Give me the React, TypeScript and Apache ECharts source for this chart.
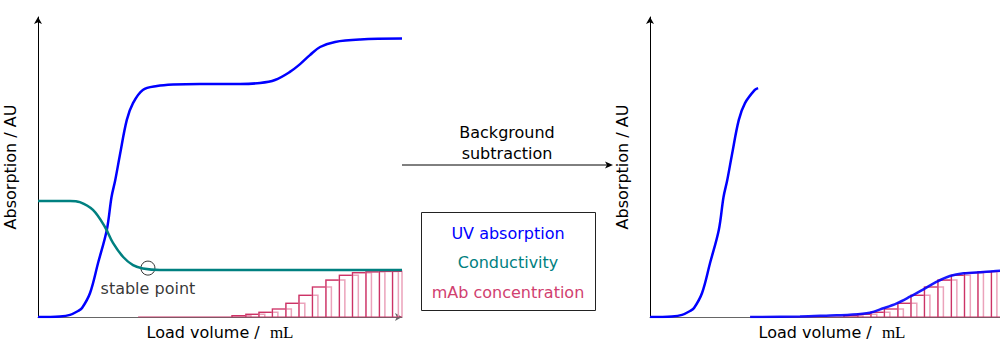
import React, { useEffect, useRef } from "react";
import * as echarts from "echarts";

const FONT = "DejaVu Sans";
const BLUE = "#0000ff";
const TEAL = "#008080";
const PINK_DARK = "#cc3366";
const PINK_LIGHT = "#eba3bb";
const PINK_TEXT = "#d1406f";

// Left plot: raw UV absorption (x: load volume 0..100, y: 0..100)
const uvRawX = [0, 6, 8.8, 11, 12.1, 14.3, 16.5, 18.9, 20.2, 21.2, 22.5, 24.4, 26.1, 28.8, 32.7, 37.1, 44.5, 55.5, 61, 65.1, 69.2, 72, 74.7, 77.5, 81.6, 88.5, 100];
const uvRawY = [0, 0.2, 0.7, 2, 3, 8, 18, 29, 40, 45.5, 54, 65.7, 71.3, 75.7, 77, 77.5, 77.7, 77.7, 78, 79, 81.7, 84.3, 87.3, 90, 91.7, 92.5, 92.8];

// Conductivity
const condX = [0, 8.8, 11.5, 15.1, 18.4, 20.6, 23.4, 26.1, 28.8, 33.5, 100];
const condY = [38.7, 38.7, 38.3, 35.7, 30, 24.7, 20, 17.3, 16.2, 15.7, 15.7];

// Stable point
const stablePoint = [30.2, 16.3];

// mAb fractions: start volume and concentration
const fractionStart = [53.3, 57.1, 60.7, 64.4, 68.1, 71.7, 75.4, 79.1, 82.8, 86.4, 90.1, 93.8, 97.4];
const fractionConc = [0.43, 0.9, 1.57, 2.67, 4.57, 7.23, 10, 12.3, 13.9, 14.77, 15.07, 15.17, 15.23];
const FRACTION_STEP = 3.68;
const FRACTION_WIDTH = 5.2;
const mAbBaselineStart = 27.5;

// Right plot: first UV rise (truncated) and subtracted UV
const uvCutX = [0, 6, 8.8, 11, 12.1, 14.3, 16.5, 18.9, 20.2, 21.2, 22.5, 24.4, 26.1, 28.8, 29.7];
const uvCutY = [0, 0.2, 0.7, 2, 3, 8, 18, 29, 40, 45.5, 54, 65.7, 71.3, 75.7, 76.3];
const uvSubX = [27.5, 41.2, 49.5, 54.9, 60.4, 64.1, 67.8, 71.4, 75.1, 78.8, 82.4, 86.1, 91.6, 96.2, 100];
const uvSubY = [0, 0.17, 0.5, 0.73, 1.43, 2.9, 4.57, 6.77, 9.23, 11.77, 13.67, 14.57, 15, 15.43, 15.57];

const zip = (xs: number[], ys: number[]) => xs.map((x, i) => [x, ys[i]]);

function renderFraction(params: any, api: any) {
  const x0 = api.value(0);
  const h = api.value(1);
  const base = api.coord([x0, 0]);
  const top = api.coord([x0, h]);
  const step = api.coord([Math.min(x0 + FRACTION_STEP, 100), h]);
  const light = api.coord([Math.min(x0 + FRACTION_WIDTH, 100), h]);
  return {
    type: "group",
    children: [
      { type: "polyline", shape: { points: [[base[0], base[1]], [top[0], top[1]], [light[0], light[1]], [light[0], base[1]]] }, style: { stroke: PINK_LIGHT, lineWidth: 1.5, fill: null } },
      { type: "polyline", shape: { points: [[base[0], base[1]], [top[0], top[1]], [step[0], step[1]]] }, style: { stroke: PINK_DARK, lineWidth: 1.2, fill: null } },
    ],
  };
}

function axisPair(idx: number) {
  return {
    x: {
      type: "value", gridIndex: idx, min: 0, max: 100,
      axisLine: { show: true, lineStyle: { color: "#666", width: 1 }, symbol: ["none", "arrow"], symbolSize: [6, 7] },
      axisTick: { show: false }, axisLabel: { show: false }, splitLine: { show: false },
      name: "Load volume /  {m|mL}", nameLocation: "middle", nameGap: 7,
      nameTextStyle: { fontFamily: FONT, fontSize: 16, color: "#000", rich: { m: { fontFamily: "Liberation Serif", fontSize: 17, color: "#000" } } },
    },
    y: {
      type: "value", gridIndex: idx, min: 0, max: 100,
      axisLine: { show: true, lineStyle: { color: "#000", width: 1 }, symbol: ["none", "arrow"], symbolSize: [6, 7] },
      axisTick: { show: false }, axisLabel: { show: false }, splitLine: { show: false },
      name: "Absorption / AU", nameLocation: "middle", nameGap: 20,
      nameTextStyle: { fontFamily: FONT, fontSize: 16, color: "#000" },
    },
  };
}

export default function App() {
  const ref = useRef<HTMLDivElement>(null);
  useEffect(() => {
    document.body.style.margin = "0";
    const chart = echarts.init(ref.current!, null, { renderer: "svg" });
    const a0 = axisPair(0);
    const a1 = axisPair(1);
    const fractions = fractionStart.map((x, i) => [x, fractionConc[i]]);
    const lineCommon = { type: "line", showSymbol: false, symbol: "none", smooth: 0.35, silent: true };
    chart.setOption({
      animation: false,
      textStyle: { fontFamily: FONT },
      grid: [
        { left: 38, top: 17, width: 364, bottom: 25, outerBoundsMode: "none", containLabel: false },
        { left: 650, top: 17, width: 364, bottom: 25, outerBoundsMode: "none", containLabel: false },
      ],
      xAxis: [a0.x, a1.x],
      yAxis: [a0.y, a1.y],
      series: [
        { type: "line", xAxisIndex: 0, yAxisIndex: 0, data: [[mAbBaselineStart, 0], [100, 0]], symbol: "none", lineStyle: { color: PINK_DARK, width: 1.2 } },
        { type: "custom", xAxisIndex: 0, yAxisIndex: 0, data: fractions, renderItem: renderFraction, silent: true },
        { ...lineCommon, xAxisIndex: 0, yAxisIndex: 0, data: zip(uvRawX, uvRawY), lineStyle: { color: BLUE, width: 2.5 } },
        { ...lineCommon, xAxisIndex: 0, yAxisIndex: 0, data: zip(condX, condY), lineStyle: { color: TEAL, width: 2.5 } },
        {
          type: "scatter", xAxisIndex: 0, yAxisIndex: 0, data: [stablePoint], symbol: "circle", symbolSize: 14,
          itemStyle: { color: "rgba(0,0,0,0)", borderColor: "#000", borderWidth: 1 },
          label: { show: true, position: "bottom", distance: 5, formatter: "stable point", color: "#000", fontSize: 16, fontFamily: FONT },
          silent: true,
        },
        { type: "line", xAxisIndex: 1, yAxisIndex: 1, data: [[mAbBaselineStart, 0], [100, 0]], symbol: "none", lineStyle: { color: PINK_DARK, width: 1.2 } },
        { type: "custom", xAxisIndex: 1, yAxisIndex: 1, data: fractions, renderItem: renderFraction, silent: true },
        { ...lineCommon, xAxisIndex: 1, yAxisIndex: 1, data: zip(uvCutX, uvCutY), lineStyle: { color: BLUE, width: 2.5 } },
        { ...lineCommon, xAxisIndex: 1, yAxisIndex: 1, data: zip(uvSubX, uvSubY), lineStyle: { color: BLUE, width: 2.5, opacity: 0.9 } },
      ],
      graphic: [
        { type: "line", shape: { x1: 402, y1: 165, x2: 608, y2: 165 }, style: { stroke: "#000", lineWidth: 1 } },
        { type: "polygon", shape: { points: [[613, 165], [605, 161.5], [607, 165], [605, 168.5]] }, style: { fill: "#000" } },
        { type: "text", x: 507, y: 132, style: { text: "Background", fontFamily: FONT, fontSize: 16, fill: "#000", align: "center", verticalAlign: "middle" } },
        { type: "text", x: 507, y: 153, style: { text: "subtraction", fontFamily: FONT, fontSize: 16, fill: "#000", align: "center", verticalAlign: "middle" } },
        { type: "rect", shape: { x: 421.5, y: 212.5, width: 174, height: 98 }, style: { fill: "none", stroke: "#222", lineWidth: 1 } },
        { type: "text", x: 508, y: 233, style: { text: "UV absorption", fontFamily: FONT, fontSize: 16, fill: BLUE, align: "center", verticalAlign: "middle" } },
        { type: "text", x: 508, y: 262, style: { text: "Conductivity", fontFamily: FONT, fontSize: 16, fill: TEAL, align: "center", verticalAlign: "middle" } },
        { type: "text", x: 508, y: 292, style: { text: "mAb concentration", fontFamily: FONT, fontSize: 16, fill: PINK_TEXT, align: "center", verticalAlign: "middle" } },
      ],
    });
    return () => chart.dispose();
  }, []);
  return <div ref={ref} style={{ width: 1000, height: 342 }} />;
}
